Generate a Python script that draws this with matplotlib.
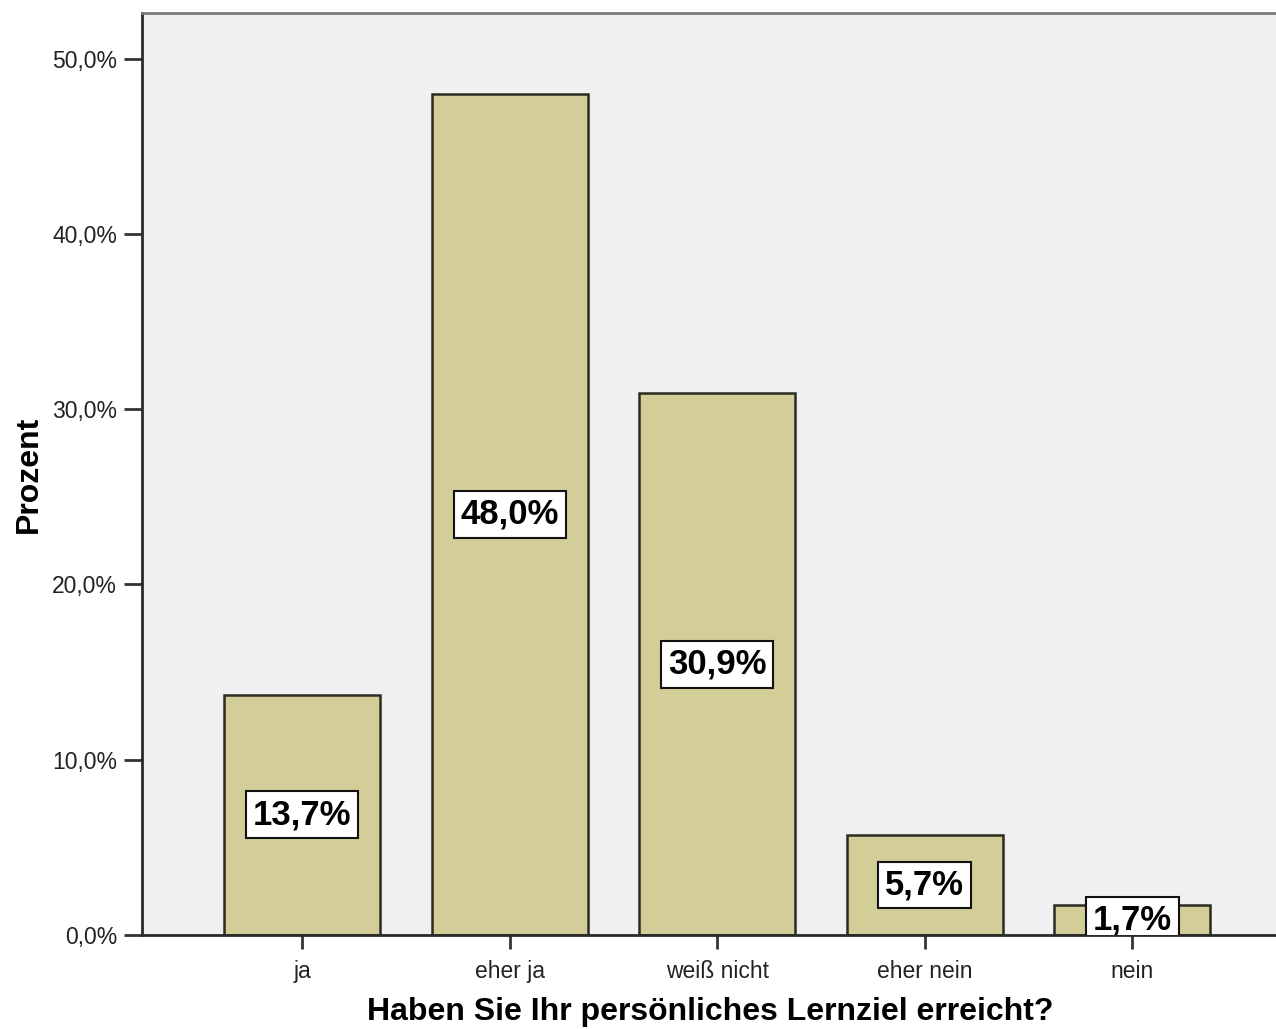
import matplotlib
matplotlib.use("Agg")
import matplotlib.pyplot as plt

categories = ["ja", "eher ja", "weiß nicht", "eher nein", "nein"]
percent = [13.7, 48.0, 30.9, 5.7, 1.7]
y_ticks = [0, 10, 20, 30, 40, 50]
y_tick_labels = ["0,0%", "10,0%", "20,0%", "30,0%", "40,0%", "50,0%"]
x_title = "Haben Sie Ihr persönliches Lernziel erreicht?"
y_title = "Prozent"

plt.rcParams["font.family"] = ["Liberation Sans", "DejaVu Sans"]

fig = plt.figure(figsize=(12.76, 10.29), dpi=100)
ax = fig.add_axes([142 / 1276, 94 / 1029, 1.0 - 142 / 1276 + 0.002, (935 - 13) / 1029])
ax.set_facecolor("#F0F0F0")

x = list(range(len(categories)))
ax.bar(x, percent, width=0.752, color="#D3CE97", edgecolor="#2b2b22", linewidth=1.8, zorder=2)

for xi, v in zip(x, percent):
    label = f"{v:.1f}%".replace(".", ",")
    ax.text(xi, v / 2, label, ha="center", va="center", fontsize=25, fontweight="bold",
            color="black", zorder=4, clip_on=True,
            bbox=dict(boxstyle="square,pad=0.2", facecolor="white", edgecolor="#111111", linewidth=1.5))

ax.set_xlim(-0.772, 4.706)
ax.set_ylim(0, 52.6)

ax.set_yticks(y_ticks)
ax.set_yticklabels(y_tick_labels, fontsize=16.5, color="#222222")
ax.set_xticks(x)
ax.set_xticklabels(categories, fontsize=16.5, color="#222222")
ax.tick_params(axis="y", length=13, width=2, color="#333333", pad=5)
ax.tick_params(axis="x", length=10, width=2, color="#333333", pad=8)

for side in ("left", "bottom"):
    ax.spines[side].set_linewidth(2)
    ax.spines[side].set_color("#2a2a2a")
ax.spines["top"].set_linewidth(2)
ax.spines["top"].set_color("#7a7a7a")
ax.spines["right"].set_visible(False)

ax.set_xlabel(x_title, fontsize=23, fontweight="bold", labelpad=10)
ax.set_ylabel(y_title, fontsize=23, fontweight="bold", labelpad=6)

fig.savefig("out.png", dpi=100)
